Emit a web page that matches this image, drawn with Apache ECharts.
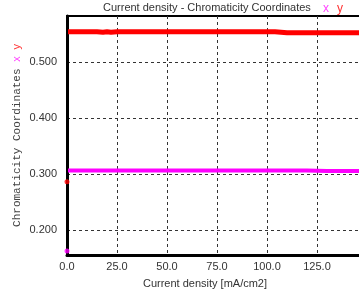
<!DOCTYPE html>
<html>
<head>
<meta charset="utf-8">
<script src="https://cdn.jsdelivr.net/npm/echarts@6/dist/echarts.min.js"></script>
<style>
  html, body { margin: 0; padding: 0; background: #fff; }
  #main { width: 359px; height: 293px; }
</style>
</head>
<body>
<div id="main"></div>
<script>
// current density [mA/cm2]
var currentDensity = [0.5, 5, 10, 15, 18, 20, 22, 25, 30, 40, 50, 60, 70, 80, 90, 100, 104, 105, 110, 120, 121, 130, 140, 150];
// chromaticity y (red) and x (magenta)
var chromaY = [0.554, 0.554, 0.554, 0.554, 0.553, 0.554, 0.553, 0.554, 0.554, 0.554, 0.554, 0.554, 0.554, 0.554, 0.554, 0.554, 0.554, 0.552, 0.552, 0.552, 0.552, 0.552, 0.552, 0.552];
var chromaX = [0.306, 0.306, 0.306, 0.306, 0.306, 0.306, 0.306, 0.306, 0.306, 0.306, 0.306, 0.306, 0.306, 0.306, 0.306, 0.306, 0.306, 0.306, 0.306, 0.306, 0.305, 0.305, 0.305, 0.305];
// first measured point at 0 mA/cm2
var startX = [[0, 0.162]];
var startY = [[0, 0.286]];
var yTicks = [0.2, 0.3, 0.4, 0.5];

function pairs(xs, ys) {
    var out = [];
    for (var i = 0; i < xs.length; i++) {
        out.push([xs[i], ys[i]]);
    }
    return out;
}

var myChart = echarts.init(document.getElementById('main'));

var option = {
    animation: false,
    title: {
        text: 'Current density - Chromaticity Coordinates',
        left: 103,
        top: 2,
        padding: 0,
        textStyle: { fontFamily: 'Liberation Sans', fontSize: 11, fontWeight: 'normal', color: '#333' }
    },
    legend: {
        left: 318,
        top: 2,
        icon: 'none',
        itemWidth: 0,
        itemGap: 3,
        padding: 0,
        textStyle: { fontFamily: 'Liberation Sans', fontSize: 12 },
        data: [
            { name: 'x', textStyle: { color: '#ff44ff' } },
            { name: 'y', textStyle: { color: '#ff3030' } }
        ]
    },
    grid: {
        left: 67,
        top: 16,
        width: 300,
        height: 239,
        outerBoundsMode: 'none',
        containLabel: false,
        show: true,
        borderColor: '#000',
        borderWidth: 2
    },
    xAxis: {
        type: 'value',
        min: 0,
        max: 150,
        interval: 25,
        name: 'Current density [mA/cm2]',
        nameLocation: 'middle',
        nameGap: 23,
        nameTextStyle: { fontFamily: 'Liberation Sans', fontSize: 11, color: '#333', padding: [0, 24, 0, 0] },
        axisLine: { lineStyle: { color: '#000', width: 3 } },
        axisTick: { show: false },
        axisLabel: {
            margin: 6,
            showMaxLabel: false,
            fontFamily: 'Liberation Sans',
            fontSize: 11,
            color: '#333',
            formatter: function (v) { return v.toFixed(1); }
        },
        splitLine: { lineStyle: { color: '#333', type: [3, 3], width: 1 } }
    },
    yAxis: {
        type: 'value',
        min: 0.155,
        max: 0.582,
        name: '{t|Chromaticity Coordinates}  {x|x}  {y|y}',
        nameLocation: 'middle',
        nameGap: 44,
        nameMoveOverlap: false,
        nameRotate: 90,
        nameTextStyle: {
            rich: {
                t: { fontFamily: 'Liberation Mono', fontSize: 11, color: '#444' },
                x: { fontFamily: 'Liberation Sans', fontSize: 11, color: '#ff44ff' },
                y: { fontFamily: 'Liberation Sans', fontSize: 11, color: '#ff3030' }
            }
        },
        axisLine: { show: true, lineStyle: { color: '#000', width: 3 } },
        axisTick: { show: false, customValues: yTicks },
        axisLabel: {
            customValues: yTicks,
            margin: 10,
            fontFamily: 'Liberation Sans',
            fontSize: 11,
            color: '#333',
            formatter: function (v) { return v.toFixed(3); }
        },
        splitLine: { lineStyle: { color: '#333', type: [3, 3], width: 1 } }
    },
    series: [
        {
            name: 'x',
            type: 'line',
            data: pairs(currentDensity, chromaX),
            showSymbol: false,
            lineStyle: { color: '#ff00ff', width: 4 },
            itemStyle: { color: '#ff00ff' },
            z: 3
        },
        {
            name: 'y',
            type: 'line',
            data: pairs(currentDensity, chromaY),
            showSymbol: false,
            lineStyle: { color: '#ff0000', width: 5 },
            itemStyle: { color: '#ff0000' },
            z: 3
        },
        {
            name: 'x',
            type: 'scatter',
            data: startX,
            symbolSize: 5,
            itemStyle: { color: '#ff00ff' },
            z: 4
        },
        {
            name: 'y',
            type: 'scatter',
            data: startY,
            symbolSize: 5,
            itemStyle: { color: '#ff0000' },
            z: 4
        }
    ]
};

myChart.setOption(option);
</script>
</body>
</html>
